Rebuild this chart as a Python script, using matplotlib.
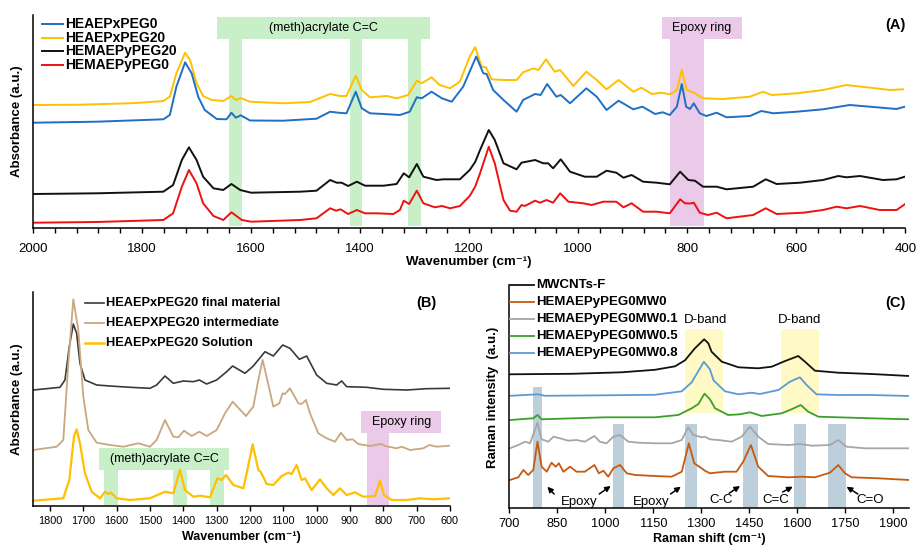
import matplotlib.pyplot as plt
from matplotlib.patches import Rectangle
from matplotlib.lines import Line2D
from matplotlib.ticker import MultipleLocator

plt.rcParams['font.family'] = ['Liberation Sans', 'DejaVu Sans']

# ---------------- (A) FTIR, offset spectra (a.u.) ----------------
a_yellow_wn = [1999, 1914, 1822, 1792, 1761, 1749, 1737, 1721, 1712, 1700,
               1688, 1672, 1651, 1636, 1628, 1619, 1602, 1541, 1492, 1455,
               1437, 1425, 1408, 1397, 1382, 1351, 1333, 1312, 1296, 1287,
               1269, 1254, 1235, 1217, 1199, 1189, 1177, 1169, 1159, 1137,
               1113, 1101, 1082, 1073, 1059, 1043, 1033, 1009, 985, 966,
               948, 926, 899, 884, 865, 847, 832, 819, 810, 801,
               789, 771, 734, 685, 661, 645, 599, 551, 508, 471, 428, 404]
a_yellow = [123, 123.3, 124.7, 125.7, 127, 131.3, 154.7, 175.3, 168, 144.7,
            132, 128, 127, 132, 128, 130, 126.3, 124.7, 126, 134,
            132, 132, 152.3, 138, 130.7, 132, 129.7, 133, 147.3, 144.7,
            150.7, 143, 139.7, 146.3, 171.3, 181, 161.3, 160.7, 148.7, 148,
            148, 155.7, 159.7, 158, 168.7, 156.3, 158, 142, 156.3, 148,
            138.7, 148, 136.3, 140.3, 134, 135.3, 133.7, 138, 158, 138,
            135.7, 129.7, 129, 131.3, 136.3, 133, 134.7, 138, 143, 140.7, 138, 138.7]

a_blue_wn = [1999, 1883, 1761, 1749, 1737, 1721, 1709, 1697, 1685, 1663,
             1645, 1636, 1628, 1619, 1602, 1541, 1480, 1455, 1440, 1425,
             1408, 1397, 1382, 1357, 1327, 1309, 1296, 1287, 1269, 1250,
             1232, 1211, 1187, 1174, 1168, 1156, 1137, 1113, 1101, 1079,
             1069, 1057, 1040, 1032, 1015, 985, 966, 948, 926, 899,
             882, 859, 845, 832, 819, 810, 802, 795, 788, 777,
             765, 746, 728, 685, 664, 642, 599, 551, 502, 465, 416, 401]
a_blue = [105.3, 106.3, 108.7, 113, 141.3, 165.7, 154.7, 131.3, 118, 109,
          108.7, 115.3, 110.3, 112.7, 107.5, 107.3, 109.3, 116.3, 115.3, 114.7,
          136.3, 119.7, 114.7, 114, 113, 116.3, 130.7, 129.7, 136.3, 129.7,
          126.3, 141.3, 171.5, 154.7, 154, 138, 128, 116.3, 128, 134,
          133, 144, 131.3, 133, 124.7, 139.7, 131.3, 118, 127.3, 118.7,
          121.3, 114, 115.7, 113, 121.3, 144, 121.3, 119, 124.7, 114.7,
          112, 115.3, 110.7, 112, 117, 114.7, 116.3, 118.7, 123, 121.3, 119, 121.3]

a_black_wn = [1999, 1883, 1761, 1743, 1727, 1714, 1700, 1688, 1669, 1651,
              1636, 1620, 1600, 1510, 1480, 1455, 1443, 1434, 1422, 1406,
              1391, 1357, 1333, 1320, 1310, 1296, 1284, 1260, 1247, 1217,
              1199, 1189, 1180, 1164, 1153, 1137, 1113, 1104, 1079, 1064,
              1055, 1046, 1032, 1015, 988, 966, 948, 930, 917, 902,
              881, 856, 832, 813, 798, 786, 771, 746, 728, 679,
              656, 636, 593, 551, 523, 508, 483, 441, 416, 401]
a_black = [34, 34.7, 36.3, 43, 68, 80.7, 68, 51.3, 39.7, 38,
           44, 38, 35.3, 36.3, 37.3, 48, 45.3, 45.3, 42, 46.3,
           42.3, 42.3, 44, 54.7, 50.7, 64, 51.3, 48, 48.7, 48.7,
           58, 66, 78, 98, 88, 64.7, 58.7, 65.3, 68, 64.7,
           64.7, 59.7, 68.7, 56.3, 51.3, 51.3, 57.3, 55.3, 50.3, 53,
           46.3, 45.3, 43.7, 56.3, 48, 47.3, 41.3, 41.3, 38.7, 41.3,
           48.7, 44, 45.3, 48, 52, 50.7, 52, 48, 48.7, 51.3]

a_red_wn = [1999, 1883, 1761, 1743, 1727, 1714, 1700, 1688, 1669, 1651,
            1636, 1617, 1600, 1510, 1480, 1455, 1444, 1436, 1422, 1406,
            1391, 1370, 1339, 1327, 1320, 1310, 1296, 1284, 1263, 1250,
            1235, 1217, 1199, 1189, 1180, 1164, 1153, 1137, 1125, 1113,
            1104, 1098, 1079, 1070, 1058, 1046, 1033, 1018, 991, 975,
            954, 930, 917, 902, 881, 856, 832, 813, 804, 795,
            788, 777, 762, 746, 728, 679, 656, 636, 587, 551,
            526, 508, 483, 447, 416, 401]
a_red = [5.3, 6, 8, 14.7, 41.3, 58, 44.7, 24.7, 12, 8,
         15.7, 8, 6.3, 8, 9.7, 19.7, 17.3, 18.7, 14, 18,
         14.7, 14.7, 14, 18, 27.3, 24, 37.3, 24.7, 20.7, 22,
         19.7, 22, 32, 41.3, 54.7, 81.3, 64.7, 28, 17.3, 16.3,
         23, 22, 27.3, 25.3, 28, 25.3, 34.7, 26.3, 24.7, 23,
         26.3, 26.3, 20.7, 24.7, 16.3, 16.3, 14.7, 28.7, 24.7, 24.5,
         25.3, 15.3, 13, 15.3, 9.7, 13, 19.7, 14, 15.3, 18,
         21.3, 19.7, 22, 18, 18, 23.7]

a_acrylate_bands = [(1640, 1617), (1418, 1396), (1312, 1289)]
a_epoxy_band = (832, 769)

# ---------------- (B) FTIR, three stages ----------------
b_final_wn = [1850, 1770, 1755, 1742, 1730, 1720, 1710, 1695, 1660, 1620,
              1560, 1500, 1480, 1455, 1430, 1400, 1370, 1352, 1330, 1300,
              1270, 1252, 1215, 1190, 1155, 1130, 1102, 1080, 1052, 1030,
              1000, 970, 940, 925, 910, 850, 800, 730, 670, 600]
b_final = [116, 118.7, 126, 159.3, 182, 172.7, 142.7, 126, 121, 120,
           118.7, 117.7, 121, 130, 122.7, 125, 124.3, 126, 122, 126,
           134.3, 140, 132.7, 140, 154.3, 150, 161, 157.7, 146.7, 150,
           131, 122.7, 121, 125, 119.3, 118.7, 116.7, 116, 117.3, 117.7]

b_inter_wn = [1850, 1780, 1760, 1745, 1730, 1715, 1700, 1685, 1660, 1620,
              1580, 1535, 1500, 1480, 1455, 1430, 1415, 1398, 1375, 1352,
              1330, 1300, 1275, 1252, 1212, 1190, 1175, 1162, 1148, 1130,
              1112, 1102, 1095, 1080, 1055, 1045, 1032, 1020, 995, 970,
              945, 927, 910, 892, 875, 840, 820, 805, 795, 760,
              745, 720, 680, 662, 640, 600]
b_inter = [56, 59.3, 66, 142.7, 206.7, 176, 109.3, 76, 63.3, 61,
           59.3, 62.7, 59.3, 66, 86, 69.3, 68.7, 75.3, 70, 74.3,
           70, 76, 92.7, 104.3, 90, 99.3, 126, 146, 126, 99.3,
           102.7, 112.7, 112, 117.7, 102.7, 102, 106, 92.7, 72.7, 67.7,
           64.3, 73.3, 66, 66.7, 62, 60, 61.3, 62, 60, 57.7,
           59.3, 56, 57.7, 61, 59.3, 60.3]

b_sol_wn = [1850, 1760, 1742, 1728, 1720, 1710, 1695, 1675, 1650, 1635,
            1625, 1617, 1600, 1560, 1500, 1455, 1430, 1410, 1395, 1370,
            1350, 1320, 1298, 1285, 1272, 1250, 1220, 1210, 1192, 1175,
            1168, 1150, 1130, 1105, 1085, 1075, 1060, 1045, 1035, 1015,
            990, 970, 950, 930, 910, 885, 860, 825, 810, 798,
            775, 730, 690, 650, 600]
b_sol = [5.3, 7.7, 26, 69.3, 76.7, 62.7, 32.7, 14.3, 7.7, 14.3,
         12, 13.3, 7.7, 6, 7.7, 14.3, 12.7, 36, 16, 9.3,
         10.3, 8.7, 27.7, 26, 31, 21, 17.7, 32.7, 61.7, 36,
         34.3, 22, 21, 30, 33.3, 32, 41, 26, 27.7, 16,
         26.7, 17.7, 11, 17.7, 11, 13.7, 9.3, 10, 25.3, 11,
         6, 6, 7.7, 6.7, 7.7]

b_acrylate_bands = [(1638, 1596), (1430, 1388), (1320, 1278)]
b_epoxy_band = (850, 782)

# ---------------- (C) Raman ----------------
c_cnt_sh = [702, 895, 1051, 1155, 1218, 1249, 1280, 1309, 1322, 1332,
            1364, 1416, 1478, 1520, 1562, 1603, 1624, 1655, 1728, 1832, 1950]
c_cnt = [134, 134.5, 136, 138.5, 142, 148, 160, 169, 165, 156.6,
         146.6, 141, 140, 141.6, 147.3, 152.3, 146.6, 137.6, 135.6, 134.3, 132.3]

c_mw08_sh = [702, 789, 811, 999, 1155, 1239, 1270, 1308, 1327, 1338,
             1374, 1416, 1457, 1483, 1541, 1577, 1608, 1629, 1660, 1728, 1832, 1950]
c_mw08 = [112.5, 114, 112.5, 113, 113.5, 117, 126, 146.5, 139, 128,
          117, 114, 115.6, 114.3, 118.3, 126.6, 131, 123.3, 114, 113.3, 113.3, 112.3]

c_mw05_sh = [702, 775, 788, 801, 999, 1155, 1228, 1270, 1291, 1310,
             1327, 1343, 1384, 1421, 1452, 1489, 1551, 1582, 1611, 1634,
             1666, 1728, 1832, 1950]
c_mw05 = [88.3, 90, 93.3, 89, 91, 91, 93.3, 100, 104.3, 114.7,
          109, 100, 93.3, 94, 96, 92.3, 95, 99, 103.3, 96.6,
          91.6, 91, 90, 89]

c_mw01_sh = [702, 728, 749, 765, 788, 801, 822, 838, 858, 884,
             910, 936, 966, 983, 1004, 1025, 1046, 1072, 1103, 1155,
             1207, 1239, 1259, 1275, 1301, 1311, 1327, 1353, 1395, 1426,
             1452, 1478, 1509, 1572, 1608, 1645, 1702, 1728, 1754, 1811, 1950]
c_mw01 = [60, 63.3, 66.6, 65, 85.6, 69, 66.6, 71.6, 70, 67.6,
          68.3, 66.6, 72.3, 66.6, 65, 71.6, 73.3, 66.6, 65.6, 65,
          65, 68.3, 81, 73.3, 71, 71.6, 69, 68.3, 66.6, 71.6,
          81.6, 71.6, 64.3, 63.3, 64.3, 62.6, 63.3, 68.3, 61.6, 60, 60]

c_mw0_sh = [702, 728, 744, 759, 775, 788, 801, 817, 832, 845,
            855, 869, 890, 910, 936, 966, 980, 994, 1009, 1025,
            1046, 1067, 1093, 1155, 1207, 1239, 1261, 1278, 1301, 1311,
            1327, 1343, 1374, 1410, 1431, 1455, 1478, 1509, 1572, 1614,
            1655, 1702, 1728, 1749, 1770, 1853, 1950]
c_mw0 = [28.3, 31, 38.3, 33.3, 38.3, 66.6, 41.6, 36.6, 45.6, 41.6,
         45, 36.6, 41.6, 36.6, 36.6, 43.3, 35, 37.6, 31.6, 40,
         43.3, 35, 33.3, 32.3, 31.6, 36.6, 65, 45, 40, 37.6,
         35, 35.6, 36.6, 36.6, 46.6, 63.3, 41.6, 32.3, 31, 31.6,
         31, 35.6, 43.3, 35, 31, 30, 28.3]

c_dband = [(1249, 1369), (1548, 1668)]
c_marker_bands = [(773, 802), (1023, 1059), (1250, 1286), (1429, 1476), (1591, 1626), (1696, 1751)]

# ---------------- figure ----------------
W, H = 917, 549
fig = plt.figure(figsize=(W / 100, H / 100), dpi=100)


def fx(x):
    return x / W


def fy(y):
    return 1 - y / H


def place(l, t, r, b):
    return [fx(l), fy(b), (r - l) / W, (b - t) / H]


def style(ax, pad, size):
    for s in ['top', 'right']:
        ax.spines[s].set_visible(False)
    for s in ['left', 'bottom']:
        ax.spines[s].set_linewidth(1.1)
    ax.set_yticks([])
    ax.tick_params(axis='x', which='both', direction='out', length=3.5, width=1,
                   labelsize=size, pad=pad)


def band(ax, x0, x1, y0, y1, color):
    ax.add_patch(Rectangle((min(x0, x1), y0), abs(x1 - x0), y1 - y0,
                           facecolor=color, edgecolor='none', zorder=0))


def legend_row(x0, x1, y, color, lw, label, size=9.5):
    fig.add_artist(Line2D([fx(x0), fx(x1)], [fy(y), fy(y)], color=color, lw=lw,
                          transform=fig.transFigure))
    fig.text(fx(x1 + 2), fy(y), label, ha='left', va='center', fontsize=size,
             fontweight='bold')


GREEN = '#c8efc8'
PINK = '#ebc9e8'
YEL = '#fff9c6'
STEEL = '#bccfdb'

# ----- A -----
axA = fig.add_axes(place(33, 15, 905.3, 228))
style(axA, 7, 9.5)
axA.set_xlim(2000, 400)
axA.set_ylim(0, 213)
axA.set_xticks(range(2000, 399, -200))
axA.xaxis.set_minor_locator(MultipleLocator(40))
for lo, hi in a_acrylate_bands:
    band(axA, lo, hi, 2, 189, GREEN)
band(axA, 1662, 1272, 189, 211, GREEN)
axA.text(1467, 200, '(meth)acrylate C=C', ha='center', va='center', fontsize=9)
band(axA, a_epoxy_band[0], a_epoxy_band[1], 2, 189, PINK)
band(axA, 846, 700, 189, 211, PINK)
axA.text(773, 200, 'Epoxy ring', ha='center', va='center', fontsize=9)
axA.plot(a_yellow_wn, a_yellow, color='#ffc000', lw=1.4)
axA.plot(a_blue_wn, a_blue, color='#1f6fc4', lw=1.4)
axA.plot(a_black_wn, a_black, color='#111111', lw=1.4)
axA.plot(a_red_wn, a_red, color='#ee1111', lw=1.4)

legend_row(41.7, 63.3, 24, '#1f6fc4', 1.4, 'HEAEPxPEG0', 10)
legend_row(41.7, 63.3, 37.7, '#ffc000', 1.4, 'HEAEPxPEG20', 10)
legend_row(41.7, 63.3, 51.3, '#111111', 1.4, 'HEMAEPyPEG20', 10)
legend_row(41.7, 63.3, 65, '#ee1111', 1.4, 'HEMAEPyPEG0', 10)
fig.text(fx(469), fy(262), 'Wavenumber (cm\u207b\u00b9)', ha='center', va='center',
         fontsize=9.5, fontweight='bold')
fig.text(fx(17), fy(121.5), 'Absorbance (a.u.)', ha='center', va='center',
         rotation=90, fontsize=9.5, fontweight='bold')
fig.text(fx(895.7), fy(25), '(A)', ha='center', va='center', fontsize=10.5,
         fontweight='bold')

# ----- B -----
axB = fig.add_axes(place(33.3, 292, 450, 506))
style(axB, 4, 7.8)
axB.set_xlim(1850, 600)
axB.set_ylim(0, 214)
axB.set_xticks(range(1800, 599, -100))
for lo, hi in b_acrylate_bands:
    band(axB, lo, hi, 1, 36, GREEN)
band(axB, 1653, 1264, 36, 58, GREEN)
axB.text(1458, 47, '(meth)acrylate C=C', ha='center', va='center', fontsize=9)
band(axB, b_epoxy_band[0], b_epoxy_band[1], 1, 73, PINK)
band(axB, 866, 626, 73, 95, PINK)
axB.text(746, 84, 'Epoxy ring', ha='center', va='center', fontsize=9)
axB.plot(b_final_wn, b_final, color='#3a3a3a', lw=1.2)
axB.plot(b_inter_wn, b_inter, color='#c9a77f', lw=1.3)
axB.plot(b_sol_wn, b_sol, color='#ffc000', lw=1.6)

legend_row(85, 104, 303.3, '#3a3a3a', 1.2, 'HEAEPxPEG20 final material', 9.2)
legend_row(85, 104, 323.3, '#c9a77f', 1.3, 'HEAEPXPEG20 intermediate', 9.2)
legend_row(85, 104, 343.3, '#ffc000', 1.8, 'HEAEPxPEG20 Solution', 9.2)
fig.text(fx(241), fy(537), 'Wavenumber (cm\u207b\u00b9)', ha='center', va='center',
         fontsize=9, fontweight='bold')
fig.text(fx(17), fy(399), 'Absorbance (a.u.)', ha='center', va='center',
         rotation=90, fontsize=9.5, fontweight='bold')
fig.text(fx(426.7), fy(303.3), '(B)', ha='center', va='center', fontsize=10.5,
         fontweight='bold')

# ----- C -----
axC = fig.add_axes(place(509.3, 285, 909.3, 508.3))
style(axC, 3.5, 9.2)
axC.set_xlim(700, 1950)
axC.set_ylim(0, 223.3)
axC.set_xticks(range(700, 1901, 150))
for lo, hi in c_dband:
    band(axC, lo, hi, 95.3, 179.3, YEL)
band(axC, c_marker_bands[0][0], c_marker_bands[0][1], 0.3, 121.3, STEEL)
for lo, hi in c_marker_bands[1:]:
    band(axC, lo, hi, 0.3, 84.3, STEEL)
axC.text(1312, 188, 'D-band', ha='center', va='center', fontsize=9.5)
axC.text(1606, 188, 'D-band', ha='center', va='center', fontsize=9.5)

axC.plot(c_cnt_sh, c_cnt, color='#111111', lw=1.3)
axC.plot(c_mw08_sh, c_mw08, color='#5b9bd5', lw=1.3)
axC.plot(c_mw05_sh, c_mw05, color='#3aa02a', lw=1.3)
axC.plot(c_mw01_sh, c_mw01, color='#a6a6a6', lw=1.3)
axC.plot(c_mw0_sh, c_mw0, color='#c55a11', lw=1.3)

arrows = [((840, 14.3), (819, 21.6)), ((981, 14.3), (1017, 22.3)),
          ((1204, 14.3), (1236, 21.6)), ((1387, 15), (1421, 22.3)),
          ((1554, 16.3), (1586, 21.6)), ((1789, 14.3), (1754, 21.6))]
for tail, head in arrows:
    axC.annotate('', xy=head, xytext=tail,
                 arrowprops=dict(arrowstyle='-|>', color='black', lw=1.1,
                                 mutation_scale=8, shrinkA=0, shrinkB=0))
for x, y, s in [(919, 6.6, 'Epoxy'), (1142, 6.6, 'Epoxy'), (1362, 8.3, 'C-C'),
                (1533, 8.3, 'C=C'), (1827, 8.3, 'C=O')]:
    axC.text(x, y, s, ha='center', va='center', fontsize=9.5)

legend_row(510, 534, 285, '#111111', 1.3, 'MWCNTs-F')
legend_row(510, 534, 302.3, '#c55a11', 1.3, 'HEMAEPyPEG0MW0')
legend_row(510, 534, 319.3, '#a6a6a6', 1.3, 'HEMAEPyPEG0MW0.1')
legend_row(510, 534, 336, '#3aa02a', 1.3, 'HEMAEPyPEG0MW0.5')
legend_row(510, 534, 353.3, '#5b9bd5', 1.3, 'HEMAEPyPEG0MW0.8')
fig.text(fx(709), fy(539), 'Raman shift (cm\u207b\u00b9)', ha='center', va='center',
         fontsize=9, fontweight='bold')
fig.text(fx(493.3), fy(397), 'Raman intensity  (a.u.)', ha='center', va='center',
         rotation=90, fontsize=9.5, fontweight='bold')
fig.text(fx(895), fy(303.3), '(C)', ha='center', va='center', fontsize=10.5,
         fontweight='bold')

fig.savefig('out.png', dpi=100)
